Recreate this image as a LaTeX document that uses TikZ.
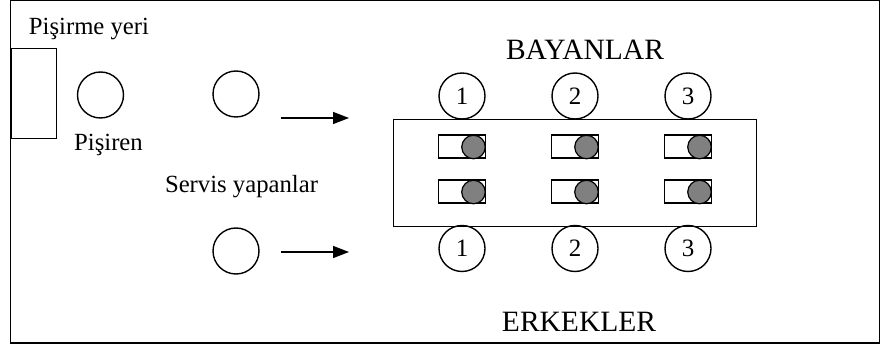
\documentclass[tikz,border=0pt]{standalone}
\usepackage{fontspec}
\setmainfont{Liberation Serif}
\usetikzlibrary{arrows.meta}
\definecolor{glassgray}{RGB}{128,128,128}
\begin{document}
\begin{tikzpicture}[x=1pt,y=-1pt,line width=1.4pt,
  person/.style={draw,circle,minimum size=46pt,inner sep=0pt},
  seat/.style={draw,circle,minimum size=46pt,inner sep=0pt,font=\fontsize{25}{27}\selectfont},
  lbl/.style={anchor=base,inner sep=0pt,font=\fontsize{24.7}{28}\selectfont},
  head/.style={anchor=base,inner sep=0pt,font=\fontsize{29.5}{32}\selectfont},
  plate/.style={draw,minimum width=47pt,minimum height=23pt,inner sep=0pt,line width=1.2pt},
  glass/.style={draw,circle,fill=glassgray,minimum size=23.5pt,inner sep=0pt,line width=1.2pt},
  flow/.style={-{Triangle[length=16pt,width=12pt]}}]
\useasboundingbox (0,0) rectangle (881,347);
\draw (10.5,0.8) rectangle (879.5,343);
% cooking place
\node[draw,minimum width=45pt,minimum height=90pt,inner sep=0pt,anchor=north west] (stove) at (10.5,48) {};
\node[lbl] (tcook) at (89,35) {Pişirme yeri};
\node[person] (cook) at (100.5,95) {};
\node[lbl] (tcooker) at (108.5,151) {Pişiren};
% servers
\node[person] (s1) at (236,94) {};
\node[person] (s2) at (236,251) {};
\node[lbl] (tserv) at (241.5,193) {Servis yapanlar};
\coordinate (a1s) at (281,118);
\coordinate (a1e) at (349,118);
\coordinate (a2s) at (281,252);
\coordinate (a2e) at (349,252);
\draw[flow] (a1s) -- (a1e);
\draw[flow] (a2s) -- (a2e);
% table
\node[draw,minimum width=363pt,minimum height=107pt,inner sep=0pt,anchor=north west] (table) at (393,119) {};
\node[head] (tw) at (585,60) {BAYANLAR};
\node[head] (tm) at (579,332) {ERKEKLER};
\foreach \i/\x in {1/462,2/575,3/688}{
  \node[seat] (w\i) at (\x,96) {\i};
  \node[seat] (m\i) at (\x,248.5) {\i};
  \node[plate] (pa\i) at (\x,146.5) {};
  \node[glass] (ga\i) at (\x+11.5,147) {};
  \node[plate] (pb\i) at (\x,191.5) {};
  \node[glass] (gb\i) at (\x+11.5,192) {};
}
\end{tikzpicture}
\end{document}
